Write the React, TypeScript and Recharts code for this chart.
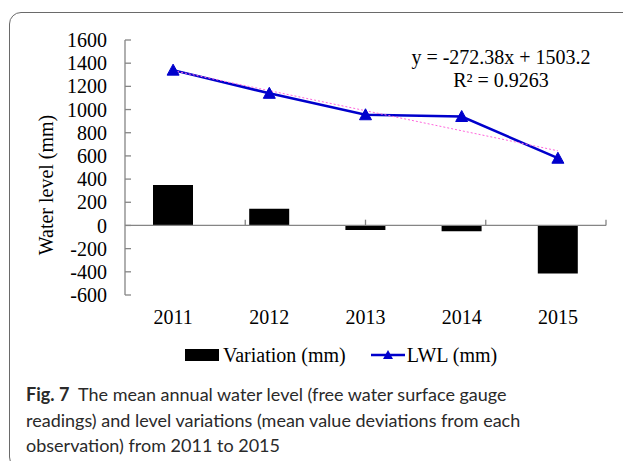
import React from 'react';
import { ComposedChart, Bar, Line, XAxis, YAxis, ReferenceLine, Legend } from 'recharts';

const years = ['2011', '2012', '2013', '2014', '2015'];
const variation = [350, 145, -40, -50, -415];
const lwl = [1340, 1140, 955, 940, 580];
const trend = [1336, 1163, 990, 817, 644];
const yTicks = [-600, -400, -200, 0, 200, 400, 600, 800, 1000, 1200, 1400, 1600];
const boundaryTicks = [1, 2, 3, 4, 5];
const equationText = 'y = -272.38x + 1503.2';
const r2Text = 'R² = 0.9263';
const yAxisTitle = 'Water level (mm)';

const data = years.map((y, i) => ({ year: y, variation: variation[i], lwl: lwl[i], trend: trend[i] }));

const SERIF = '"Liberation Serif", "Times New Roman", serif';
const BLUE = '#0000cc';
const AXIS = '#858585';

const Triangle = (props: any) => {
  const { cx, cy, index } = props;
  if (cx == null || cy == null) return null;
  return (
    <polygon
      key={`tri-${index}`}
      points={`${cx},${cy - 6} ${cx - 6},${cy + 5} ${cx + 6},${cy + 5}`}
      fill={BLUE}
      stroke={BLUE}
    />
  );
};

const LegendContent = () => (
  <div
    style={{
      display: 'flex',
      alignItems: 'center',
      height: 30,
      marginLeft: 185,
      fontFamily: SERIF,
      fontSize: 20,
      color: '#000',
    }}
  >
    <svg width={35} height={14} style={{ marginRight: 3 }}>
      <rect x={0} y={1} width={34} height={12} fill="#000" />
    </svg>
    <span>Variation (mm)</span>
    <svg width={34} height={14} style={{ marginLeft: 25, marginRight: 2 }}>
      <line x1={0} y1={7} x2={34} y2={7} stroke={BLUE} strokeWidth={2.5} />
      <polygon points="17,2 12,11 22,11" fill={BLUE} />
    </svg>
    <span>LWL (mm)</span>
  </div>
);

export default function App() {
  return (
    <div
      style={{
        position: 'absolute',
        left: 0,
        top: 0,
        width: 623,
        height: 461,
        overflow: 'hidden',
        background: '#fff',
      }}
    >
      <div
        style={{
          position: 'absolute',
          left: 9,
          top: 12,
          width: 700,
          height: 455,
          border: '1.5px solid #6a6a6a',
          borderRadius: 12,
        }}
      />
      <div style={{ position: 'absolute', left: 0, top: 0 }}>
        <ComposedChart
          width={623}
          height={370}
          data={data}
          margin={{ top: 40, right: 17, left: 25, bottom: 0 }}
        >
          <XAxis
            dataKey="year"
            axisLine={false}
            tickLine={false}
            tickSize={0}
            tickMargin={15}
            height={45}
            interval={0}
            tick={{ fontFamily: SERIF, fontSize: 20, fill: '#000' }}
          />
          <XAxis xAxisId="grid" type="number" domain={[0, 5]} hide />
          <YAxis
            domain={[-600, 1600]}
            ticks={yTicks}
            interval={0}
            width={100}
            axisLine={{ stroke: AXIS, strokeWidth: 1.3 }}
            tickLine={{ stroke: AXIS, strokeWidth: 1.3 }}
            tickSize={-6}
            tickMargin={24}
            tick={{ fontFamily: SERIF, fontSize: 20, fill: '#000' }}
          />
          <ReferenceLine y={0} stroke={AXIS} strokeWidth={1.3} />
          {boundaryTicks.map((b) => (
            <ReferenceLine
              key={b}
              xAxisId="grid"
              segment={[
                { x: b, y: 0 },
                { x: b, y: 50 },
              ]}
              stroke={AXIS}
              strokeWidth={1.3}
            />
          ))}
          <Bar dataKey="variation" fill="#000" barSize={40} isAnimationActive={false} />
          <Line
            dataKey="lwl"
            stroke={BLUE}
            strokeWidth={2.5}
            dot={Triangle}
            activeDot={false}
            isAnimationActive={false}
          />
          <Line
            dataKey="trend"
            stroke="#ff66dd"
            strokeWidth={1}
            strokeDasharray="2 2"
            dot={false}
            activeDot={false}
            isAnimationActive={false}
          />
          <Legend verticalAlign="bottom" content={<LegendContent />} wrapperStyle={{ left: 0, width: 623 }} />
        </ComposedChart>
      </div>
      <svg style={{ position: 'absolute', left: 0, top: 0 }} width={623} height={300}>
        <text x={501} y={64} textAnchor="middle" style={{ fontFamily: SERIF, fontSize: 20 }} fill="#000">
          {equationText}
        </text>
        <text x={501} y={87} textAnchor="middle" style={{ fontFamily: SERIF, fontSize: 20 }} fill="#000">
          {r2Text}
        </text>
        <text
          x={53}
          y={185}
          transform="rotate(-90, 53, 185)"
          textAnchor="middle"
          style={{ fontFamily: SERIF, fontSize: 20 }}
          fill="#000"
        >
          {yAxisTitle}
        </text>
      </svg>
      <div
        style={{
          position: 'absolute',
          left: 26,
          top: 382,
          width: 590,
          fontFamily: 'Lato, sans-serif',
          fontSize: 18,
          lineHeight: '25.5px',
          color: '#2a2a2a',
          whiteSpace: 'pre',
        }}
      >
        <b>Fig. 7</b>
        {'  The mean annual water level (free water surface gauge'}
        <br />
        readings) and level variations (mean value deviations from each
        <br />
        observation) from 2011 to 2015
      </div>
    </div>
  );
}
